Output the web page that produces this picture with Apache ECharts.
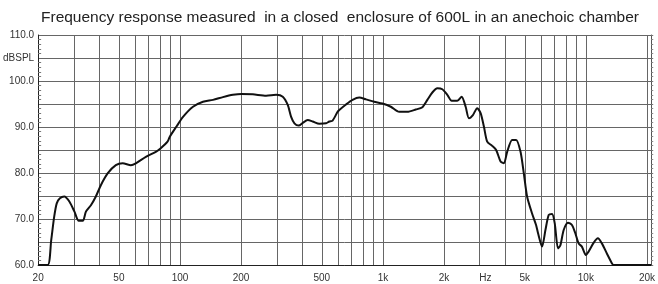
<!DOCTYPE html>
<html>
<head>
<meta charset="utf-8">
<script src="https://cdn.jsdelivr.net/npm/echarts@6/dist/echarts.min.js"></script>
<style>
html,body{margin:0;padding:0;background:#fff;}
#c{width:658px;height:284px;}
</style>
</head>
<body>
<div id="c"></div>
<script>
// Frequency (Hz) and SPL (dB)
const freqHz = [20,22.3,23.2,24.0,24.7,25.6,26.9,28.5,30.2,31.7,33.2,34.4,36.4,38.5,40.8,44,48.3,52.2,57.3,60.6,67.9,76,80.4,86.8,89.1,96.1,103.5,115.9,129.8,145.4,162.8,182.3,200.5,228.6,266,297.9,321,339.7,353,366.4,384.6,402.7,426,450.7,486.3,524.4,544.5,565,598,609.6,657.7,708.6,764.6,824.9,906,995,1094,1202,1320,1452,1565,1656,1752,1855,1962,2076,2182,2325,2443,2557,2654,2777,2915,3030,3145,3265,3455,3614,3800,3945,4095,4334,4535,4766,4947,5133,5432,5684,5814,6084,6322,6563,6813,7024,7291,7492,7776,8163,8541,8874,9212,9561,10004,10313,10918,11462,11994,12694,13431,13693,20000,21000];
const splDb = [60,60,65.4,70.5,73.4,74.5,74.9,73.8,71.6,69.6,69.6,71.6,73,74.9,77.4,79.9,81.7,82.1,81.7,82.1,83.5,84.6,85.4,86.8,87.9,90.1,92.2,94.4,95.5,95.9,96.5,97.0,97.2,97.1,96.8,97.0,96.6,94.8,92.2,90.8,90.3,90.9,91.5,91.2,90.7,90.8,91.2,91.4,93.3,93.7,94.9,95.9,96.4,96.0,95.5,95.1,94.4,93.3,93.3,93.8,94.3,95.9,97.5,98.4,98.2,97.0,95.7,95.7,96.6,94.4,91.9,92.6,94.1,93.0,90.1,86.8,85.9,85,82.5,82.1,84.6,87.2,87.2,84.6,79.9,74.9,71.2,68.7,66.9,64.0,67.6,70.9,71.1,69.1,63.6,64.3,67.6,69.2,68.7,66.9,64.7,64,62.2,62.9,64.8,65.8,64.7,62.5,60.4,60,60,60];
const gridFreqs = [20,30,40,50,60,70,80,90,100,200,300,400,500,600,700,800,900,1000,2000,3000,4000,5000,6000,7000,8000,9000,10000,20000];
const labelFreqs = [20,50,100,200,500,1000,2000,3200,5000,10000,20000];
const labelTexts = ['20','50','100','200','500','1k','2k','Hz','5k','10k','20k'];
const titleText = 'Frequency response measured  in a closed  enclosure of 600L in an anechoic chamber';

const L = Math.log10;
const lineData = freqHz.map((f,i)=>[L(f), splDb[i]]);
const labelMap = {};
labelFreqs.forEach((f,i)=>{ labelMap[L(f).toFixed(5)] = labelTexts[i]; });

const chart = echarts.init(document.getElementById('c'), null, {renderer:'canvas'});
chart.setOption({
  animation:false,
  backgroundColor:'#fff',
  title:{
    text:titleText, left:36, top:5,
    textStyle:{fontFamily:'Liberation Sans, Arial, sans-serif', fontSize:15.5, fontWeight:'normal', color:'#222'}
  },
  grid:{left:38, right:5, top:35, bottom:19},
  xAxis:{
    type:'value', min:L(20), max:L(21000),
    axisLine:{show:true, lineStyle:{color:'#222', width:1}},
    axisTick:{show:false, customValues: gridFreqs.map(L)},
    axisLabel:{
      customValues: labelFreqs.map(L),
      formatter:(v)=> labelMap[v.toFixed(5)] || '',
      color:'#333', fontFamily:'Liberation Sans, Arial, sans-serif', fontSize:10, margin:8
    },
    splitLine:{show:true, lineStyle:{color:'#666', width:1}}
  },
  yAxis:[{
    type:'value', min:60, max:110, interval:5,
    axisLine:{show:true, lineStyle:{color:'#222', width:1}},
    axisTick:{show:false, inside:true},
    minorTick:{show:true, splitNumber:5, length:3, lineStyle:{color:'#777'}},
    axisLabel:{
      formatter:(v)=> (v%10===0 ? v.toFixed(1) : (v===105 ? 'dBSPL' : '')),
      color:'#333', fontFamily:'Liberation Sans, Arial, sans-serif', fontSize:10, margin:4,
      showMinLabel:true, showMaxLabel:true
    },
    splitLine:{show:true, lineStyle:{color:'#666', width:1}}
  },{
    type:'value', min:60, max:110, interval:5, position:'right',
    axisLine:{show:true, lineStyle:{color:'#555', width:1}},
    axisTick:{show:true, inside:false, length:2, lineStyle:{color:'#777'}},
    minorTick:{show:true, splitNumber:5, length:2, lineStyle:{color:'#888'}},
    axisLabel:{show:false},
    splitLine:{show:false}
  }],
  series:[{
    type:'line', data:lineData, showSymbol:false, smooth:0.25,
    lineStyle:{color:'#111', width:2},
    clip:true
  }]
});
</script>
</body>
</html>
